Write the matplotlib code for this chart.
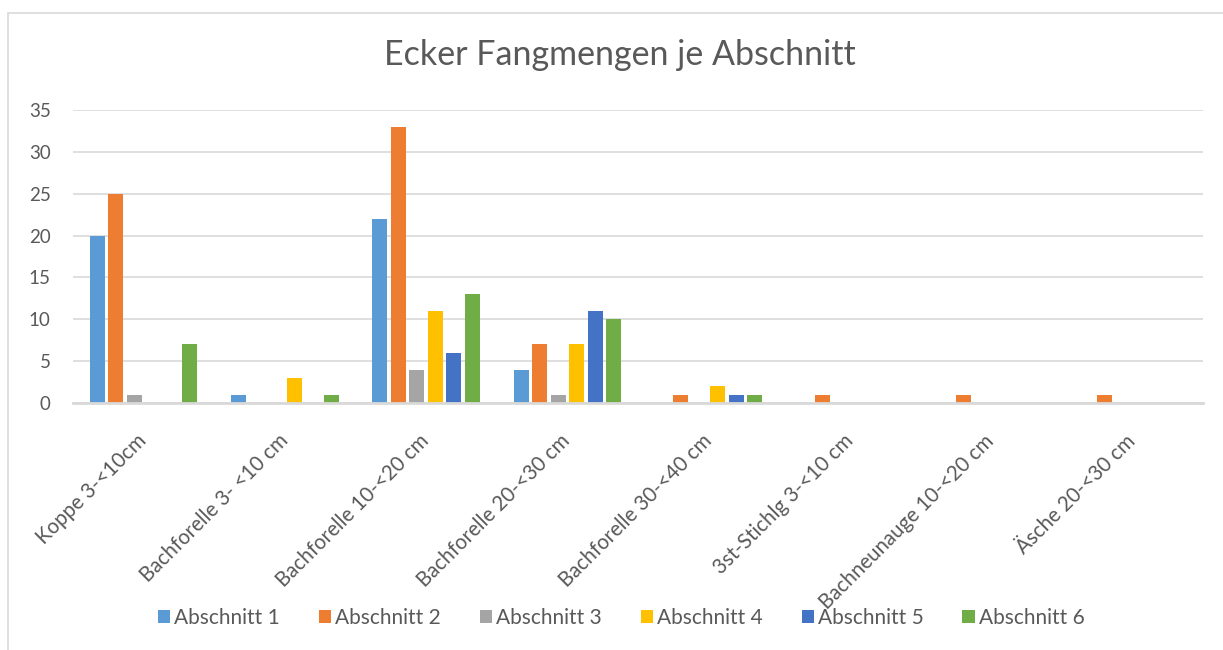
import numpy as np
import matplotlib.pyplot as plt
import matplotlib.transforms as mtransforms
from matplotlib.patches import Rectangle

plt.rcParams['font.family'] = ['Lato', 'DejaVu Sans']

# catch numbers per size class and river section
categories = ['Koppe 3-<10cm', 'Bachforelle 3- <10 cm', 'Bachforelle 10-<20 cm',
              'Bachforelle 20-<30 cm', 'Bachforelle 30-<40 cm', '3st-Stichlg 3-<10 cm',
              'Bachneunauge 10-<20 cm', 'Äsche 20-<30 cm']
abschnitt_1 = [20, 1, 22, 4, 0, 0, 0, 0]
abschnitt_2 = [25, 0, 33, 7, 1, 1, 1, 1]
abschnitt_3 = [1, 0, 4, 1, 0, 0, 0, 0]
abschnitt_4 = [0, 3, 11, 7, 2, 0, 0, 0]
abschnitt_5 = [0, 0, 6, 11, 1, 0, 0, 0]
abschnitt_6 = [7, 1, 13, 10, 1, 0, 0, 0]
series = [abschnitt_1, abschnitt_2, abschnitt_3, abschnitt_4, abschnitt_5, abschnitt_6]
series_names = ['Abschnitt 1', 'Abschnitt 2', 'Abschnitt 3',
                'Abschnitt 4', 'Abschnitt 5', 'Abschnitt 6']
colors = ['#5B9BD5', '#ED7D31', '#A5A5A5', '#FFC000', '#4472C4', '#70AD47']

text_col = '#595959'
grid_col = '#D9D9D9'

fig = plt.figure(figsize=(12.23, 6.5), dpi=100, facecolor='white')
ax = fig.add_axes([0.0597, 0.38, 0.9239, 0.4508])

# chart frame (left and top edges)
fig.patches.append(Rectangle((8 / 1223, -0.1), 1.2, 1.1 - 13 / 650, transform=fig.transFigure,
                             fill=False, edgecolor=grid_col, linewidth=1.2))

x = np.arange(len(categories))
step = 0.131
width = 0.106
for i, (vals, name, c) in enumerate(zip(series, series_names, colors)):
    ax.bar(x + (i - 2.5) * step, vals, width=width, color=c, label=name, zorder=3)

ax.set_xlim(-0.5, len(categories) - 0.5)
ax.set_ylim(0, 35)
ax.set_yticks(np.arange(0, 36, 5))
ax.yaxis.grid(True, color=grid_col, linewidth=1.2, zorder=0)
for s in ['top', 'right', 'left']:
    ax.spines[s].set_visible(False)
ax.spines['bottom'].set_color(grid_col)
ax.spines['bottom'].set_linewidth(2)
ax.spines['bottom'].set_zorder(4)
ax.tick_params(axis='y', length=0, pad=16, labelsize=13.5, labelcolor=text_col)
ax.tick_params(axis='x', length=0, pad=12, labelsize=14.8, labelcolor=text_col)
ax.set_xticks(x)
ax.set_xticklabels(categories, rotation=45, ha='right', va='center', rotation_mode='anchor')
offset = mtransforms.ScaledTranslation(0.0, -0.18, fig.dpi_scale_trans)
for lbl in ax.get_xticklabels():
    lbl.set_transform(lbl.get_transform() + offset)

fig.text(0.507, 0.915, 'Ecker Fangmengen je Abschnitt', ha='center', va='center',
         fontsize=24.5, color=text_col)

fig.legend(loc='center', bbox_to_anchor=(0.508, 0.049), ncol=6, frameon=False,
           fontsize=15, handlelength=0.6, handleheight=0.6, handletextpad=0.2,
           columnspacing=1.85, labelcolor=text_col)

fig.savefig('out.png', dpi=100, facecolor='white')
